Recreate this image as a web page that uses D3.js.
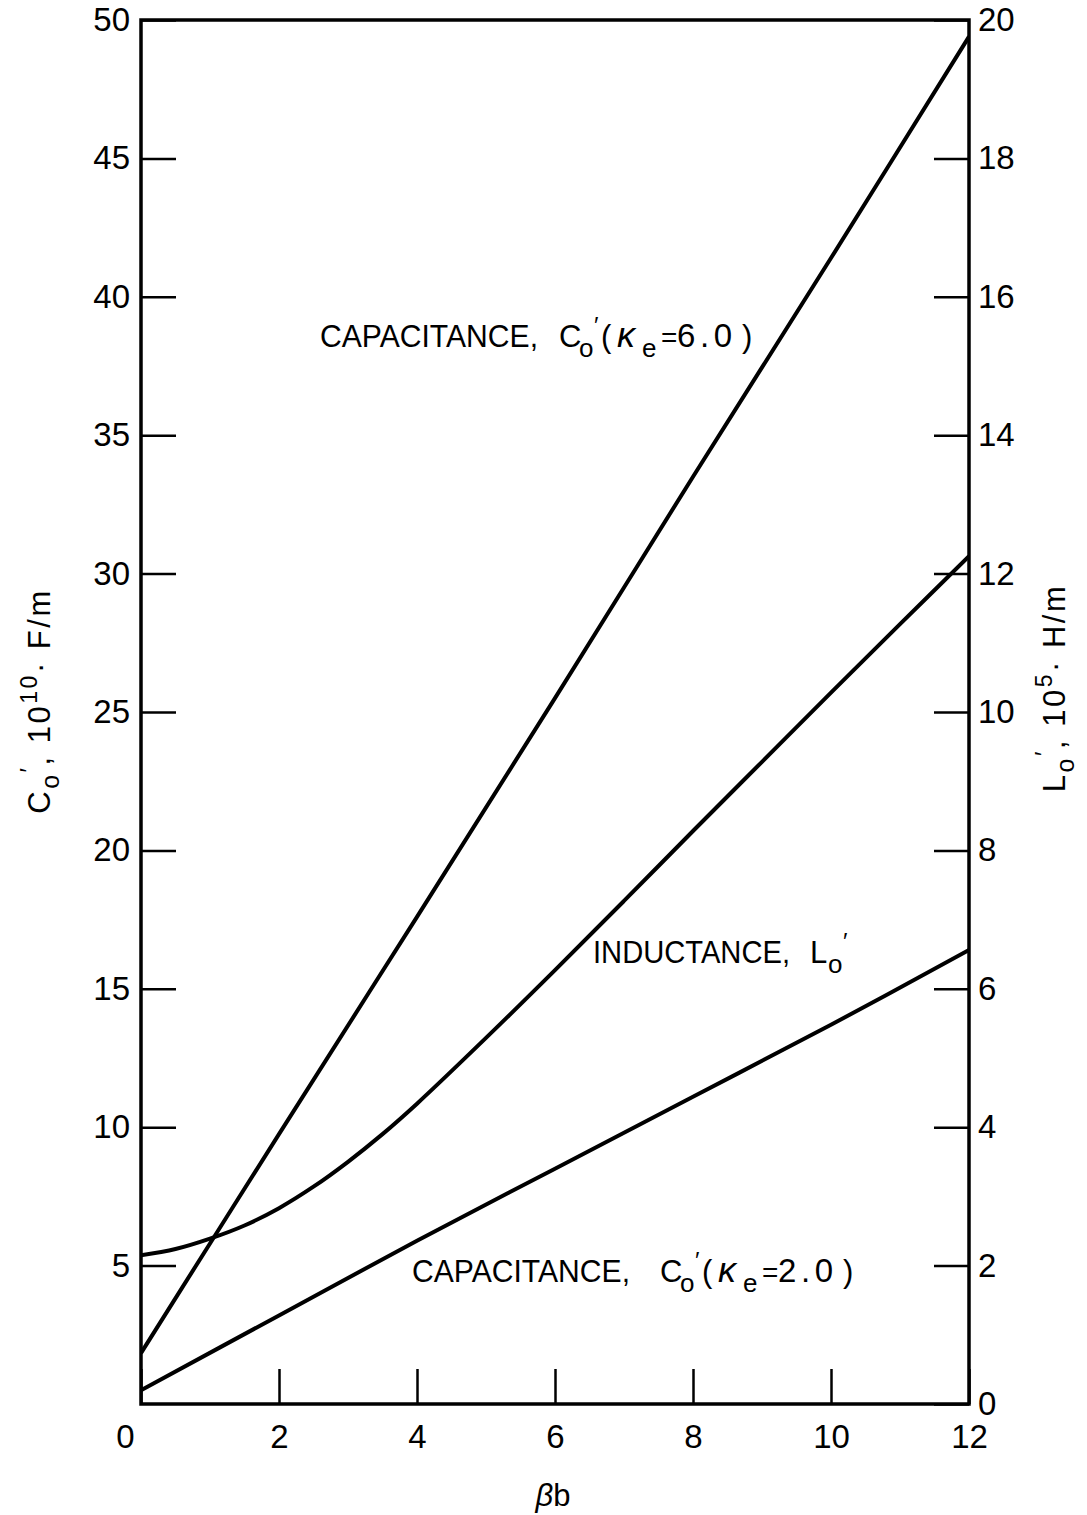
<!DOCTYPE html>
<html><head><meta charset="utf-8">
<script src="https://cdn.jsdelivr.net/npm/d3@7"></script>
<style>
body{margin:0;background:#fff;}
text{font-family:"Liberation Sans",Arial,sans-serif;fill:#000;}
</style></head>
<body><svg id="c" width="1087" height="1515"></svg>
<script>
// ---- data ----
const xTicks = [0,2,4,6,8,10,12];
const leftTicks = [5,10,15,20,25,30,35,40,45,50];
const rightTicks = [0,2,4,6,8,10,12,14,16,18,20];
// capacitance, kappa_e = 6.0 (left axis, 10^10 F/m)
const capHiX = [0,1,2,4,6,8,10,12];
const capHiY = [1.84,5.8,9.75,17.6,25.5,33.5,41.4,49.4];
// capacitance, kappa_e = 2.0 (left axis)
const capLoX = [0,2,4,6,8,10,12];
const capLoY = [0.5,3.2,5.9,8.5,11.1,13.7,16.4];
// inductance (right axis, 10^5 H/m)
const indX = [0,0.5,1,1.5,2,2.5,3,3.5,4,5,6,7,8,9,10,11,12];
const indY = [2.15,2.24,2.39,2.58,2.83,3.14,3.5,3.9,4.34,5.29,6.27,7.27,8.28,9.28,10.28,11.27,12.25];

const svg = d3.select("#c");
const x = d3.scaleLinear([0,12],[141,969]);
const yL = d3.scaleLinear([0,50],[1404,20]);
const yR = d3.scaleLinear([0,20],[1404,20]);

function styleAxis(g){
  g.select(".domain").remove();
  g.selectAll(".tick line").attr("stroke","#000").attr("stroke-width",2.5);
  g.selectAll(".tick text").attr("font-size",33).attr("fill","#000")
   .style("font-family","'Liberation Sans',Arial,sans-serif");
}
const gl = svg.append("g").attr("transform","translate(141,0)")
  .call(d3.axisLeft(yL).tickValues(leftTicks).tickSizeInner(-35).tickSizeOuter(0).tickPadding(11));
styleAxis(gl);
const gr = svg.append("g").attr("transform","translate(969,0)")
  .call(d3.axisRight(yR).tickValues(rightTicks).tickSizeInner(-35).tickSizeOuter(0).tickPadding(9));
styleAxis(gr);
const gb = svg.append("g").attr("transform","translate(0,1404)")
  .call(d3.axisBottom(x).tickValues(xTicks).tickSizeInner(-35).tickSizeOuter(0).tickPadding(21));
styleAxis(gb);
gb.selectAll(".tick text").filter(d=>d===0).attr("dx",-16);

// frame
svg.append("rect").attr("x",141).attr("y",20).attr("width",828).attr("height",1384)
  .attr("fill","none").attr("stroke","#000").attr("stroke-width",3.5);

// curves
svg.append("clipPath").attr("id","pc").append("rect")
  .attr("x",141).attr("y",20).attr("width",828).attr("height",1384);
function drawLine(xs, ys, yScale){
  const pts = xs.map((v,i)=>[v,ys[i]]);
  svg.append("path").attr("d", d3.line().x(d=>x(d[0])).y(d=>yScale(d[1])).curve(d3.curveCatmullRom.alpha(0.5))(pts))
    .attr("fill","none").attr("stroke","#000").attr("stroke-width",4).attr("stroke-linejoin","round")
    .attr("clip-path","url(#pc)");
}
drawLine(capHiX, capHiY, yL);
drawLine(capLoX, capLoY, yL);
drawLine(indX, indY, yR);

// label made of absolutely positioned pieces: [text, dx, dy, size, italic, length]
function label(x0, y0, pieces){
  const t = svg.append("text");
  pieces.forEach(p=>{
    const s = t.append("tspan").attr("x", x0+p[1]).attr("y", y0+p[2])
      .attr("font-size", p[3]).text(p[0]);
    if(p[4]) s.attr("font-style","italic");
    if(p[5]) s.attr("textLength",p[5]).attr("lengthAdjust", p[6] || "spacingAndGlyphs");
  });
}
function capPieces(val, sh){
  return [["CAPACITANCE,",0,0,31,false,218],["C",248+sh,0,31],["o",268+sh,10,26],["′",283+sh,-13,24],
    ["(",290+sh,0,31],["κ",306+sh,0,36,true],["e",331+sh,10,26],["=",350+sh,0,28],
    [val,366+sh,0,33,false,55,"spacing"],[")",431+sh,0,31]];
}
label(320, 347, capPieces("6.0", -9));
label(412, 1282, capPieces("2.0", 0));
label(593, 963, [["INDUCTANCE,",0,0,31,false,197],["L",217,0,31],["o",235,10,26],["′",250,-13,24]]);

// axis titles (rotated)
function rotTitle(cx, cy, main, sup, unit){
  const t = svg.append("text").attr("transform",`translate(${cx},${cy}) rotate(-90)`)
    .attr("text-anchor","middle").attr("font-size",31).attr("letter-spacing",2.5);
  t.append("tspan").text(main);
  t.append("tspan").attr("dy",9).attr("font-size",25).text("o");
  t.append("tspan").attr("dy",-22).attr("font-size",24).text("′");
  t.append("tspan").attr("dy",13).text(", 10");
  t.append("tspan").attr("dy",-13).attr("font-size",23).text(sup);
  t.append("tspan").attr("dy",13).text("· " + unit);
}
rotTitle(50, 701, "C", "10", "F/m");
rotTitle(1065, 688, "L", "5", "H/m");

svg.append("text").attr("x",553).attr("y",1506).attr("text-anchor","middle")
  .attr("font-size",31).html('<tspan font-style="italic">β</tspan>b');
</script></body></html>
